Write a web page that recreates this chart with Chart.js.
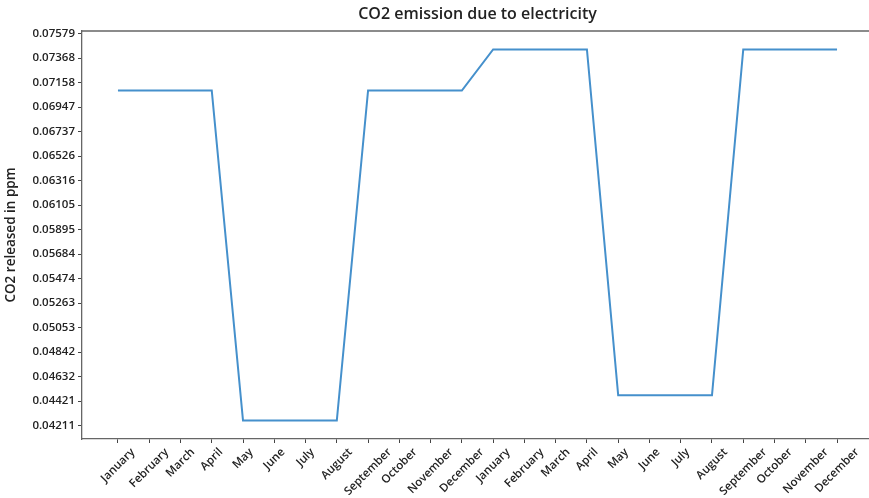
<!DOCTYPE html>
<html>
<head>
<meta charset="utf-8">
<script src="https://cdn.jsdelivr.net/npm/chart.js@4"></script>
<style>
  html, body { margin: 0; padding: 0; background: #fff; overflow: hidden; }
  .wrap { width: 877px; height: 498px; }
</style>
</head>
<body>
<div class="wrap"><canvas id="myChart" width="877" height="498"></canvas></div>
<script>
const months = ['January', 'February', 'March', 'April', 'May', 'June', 'July', 'August', 'September', 'October', 'November', 'December'];
const firstYear = [0.07089, 0.07089, 0.07089, 0.07089, 0.04254, 0.04254, 0.04254, 0.04254, 0.07089, 0.07089, 0.07089, 0.07089];
const secondYear = [0.07441, 0.07441, 0.07441, 0.07441, 0.04470, 0.04470, 0.04470, 0.04470, 0.07441, 0.07441, 0.07441, 0.07441];
const yTickLabels = ['0.04211', '0.04421', '0.04632', '0.04842', '0.05053', '0.05263', '0.05474', '0.05684', '0.05895', '0.06105', '0.06316', '0.06526', '0.06737', '0.06947', '0.07158', '0.07368', '0.07579'];
const chartTitle = 'CO2 emission due to electricity';

const xLabels = months.concat(months);
const values = firstYear.concat(secondYear);
const points = values.map((v, i) => ({ x: i, y: v }));

const ctx = document.getElementById('myChart');
const tickFont = { family: 'Open Sans', size: 11.5, weight: '600' };

// spines on top/right, title over the plot area, and x labels centred under
// their ticks at 45 degrees (matplotlib style)
const frame = {
    id: 'frame',
    afterDraw(chart) {
        const { ctx, chartArea: a } = chart;
        const xs = chart.scales.x;
        ctx.save();
        ctx.strokeStyle = '#666';
        ctx.lineWidth = 1.3;
        ctx.beginPath();
        ctx.moveTo(a.left, a.top);
        ctx.lineTo(a.right, a.top);
        ctx.lineTo(a.right, a.bottom);
        ctx.stroke();

        ctx.fillStyle = '#222';
        ctx.font = '600 16px "Open Sans"';
        ctx.textAlign = 'center';
        ctx.textBaseline = 'middle';
        ctx.fillText(chartTitle, (a.left + a.right) / 2, 14);

        ctx.font = '600 11.5px "Open Sans"';
        const h = 12;
        xs.ticks.forEach((t) => {
            const label = xLabels[t.value];
            const w = ctx.measureText(label).width;
            const x = xs.getPixelForValue(t.value);
            const cy = a.bottom + 4 + 3 + (w + h) * Math.SQRT1_2 / 2;
            ctx.save();
            ctx.translate(x, cy);
            ctx.rotate(-Math.PI / 4);
            ctx.fillText(label, 0, 0);
            ctx.restore();
        });
        ctx.restore();
    }
};

new Chart(ctx, {
    type: 'line',
    data: {
        datasets: [{
            data: points,
            borderColor: '#4590cc',
            borderWidth: 2,
            pointRadius: 0,
            tension: 0,
            fill: false
        }]
    },
    plugins: [frame],
    options: {
        responsive: false,
        animation: false,
        layout: { padding: { right: 4, top: 31 } },
        plugins: {
            legend: { display: false },
            tooltip: { enabled: false },
            title: { display: false }
        },
        scales: {
            x: {
                type: 'linear',
                min: -1.15,
                max: 24.15,
                afterBuildTicks: (scale) => {
                    scale.ticks = xLabels.map((_, i) => ({ value: i }));
                },
                afterFit: (scale) => { scale.height = 59; },
                ticks: { display: false },
                grid: { drawOnChartArea: false, tickLength: 4, color: '#444' },
                border: { color: '#666', width: 1.3 }
            },
            y: {
                min: 0.04095,
                max: 0.07600,
                afterBuildTicks: (scale) => {
                    scale.ticks = yTickLabels.map((t) => ({ value: Number(t) }));
                },
                afterFit: (scale) => { scale.width = 82; },
                ticks: {
                    color: '#222',
                    font: tickFont,
                    padding: 3,
                    callback: (v) => v.toFixed(5)
                },
                title: {
                    display: true,
                    text: 'CO2 released in ppm',
                    color: '#222',
                    font: { family: 'Open Sans', size: 13.5, weight: '600' },
                    padding: { top: 3, bottom: 0 }
                },
                grid: { drawOnChartArea: false, tickLength: 4, color: '#444' },
                border: { color: '#666', width: 1.3 }
            }
        }
    }
});
</script>
</body>
</html>
